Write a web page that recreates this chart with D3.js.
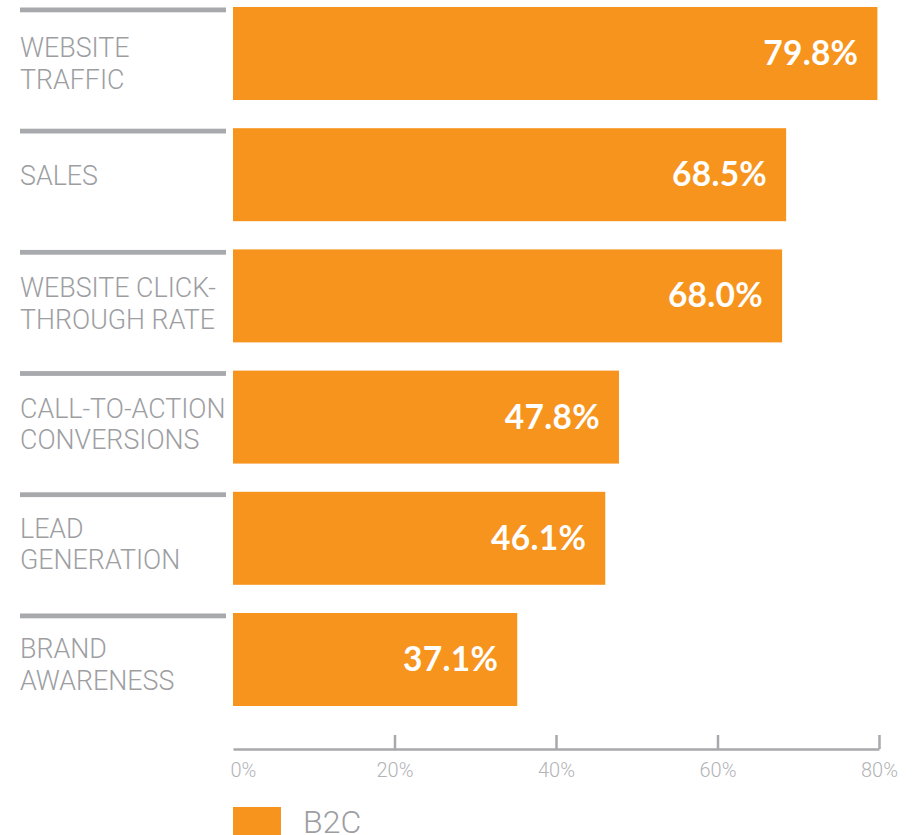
<!DOCTYPE html>
<html>
<head>
<meta charset="utf-8">
<script src="https://cdnjs.cloudflare.com/ajax/libs/d3/7.8.5/d3.min.js"></script>
<style>
  html, body { margin: 0; padding: 0; background: #ffffff; }
  svg { display: block; }
</style>
</head>
<body>
<svg id="chart" width="915" height="835"></svg>
<script>
// ---- data ----
const categories = ["WEBSITE TRAFFIC", "SALES", "WEBSITE CLICK-THROUGH RATE",
                    "CALL-TO-ACTION CONVERSIONS", "LEAD GENERATION", "BRAND AWARENESS"];
const categoryLines = [["WEBSITE", "TRAFFIC"], ["SALES"], ["WEBSITE CLICK-", "THROUGH RATE"],
                       ["CALL-TO-ACTION", "CONVERSIONS"], ["LEAD", "GENERATION"], ["BRAND", "AWARENESS"]];
// bar lengths as drawn in the picture (percent)
const values = [79.8, 68.5, 68.0, 47.8, 46.1, 35.2];
// value labels as printed
const valueLabels = ["79.8%", "68.5%", "68.0%", "47.8%", "46.1%", "37.1%"];
const tickValues = [0, 20, 40, 60, 80];
const tickLabels = ["0%", "20%", "40%", "60%", "80%"];
const seriesName = "B2C";

// ---- drawing ----
const svg = d3.select("#chart");
const orange = "#f7941e";
const grayLine = "#a8a9ad";
const grayText = "#9d9ea2";

const x = d3.scaleLinear().domain([0, 80]).range([233, 879]);
const y = d3.scaleBand().domain(categories).range([7, 706]).paddingInner(0.2327).paddingOuter(0);
// category text sits on a slightly tighter rhythm than the bars
const yLab = d3.scalePoint().domain(categories).range([57, 658]);

const rows = svg.append("g").selectAll("g.row")
  .data(categories.map((c, i) => ({ c, i, v: values[i], lab: valueLabels[i], lines: categoryLines[i] })))
  .join("g").attr("class", "row");

// separator lines
rows.append("rect")
  .attr("x", 20).attr("width", 206)
  .attr("y", d => y(d.c) + 0.5).attr("height", 4.8)
  .attr("fill", grayLine);

// bars
rows.append("rect")
  .attr("x", x(0))
  .attr("y", d => y(d.c))
  .attr("width", d => x(d.v) - x(0))
  .attr("height", y.bandwidth())
  .attr("fill", orange);

// value labels
rows.append("text")
  .attr("x", d => x(d.v) - 19)
  .attr("y", d => y(d.c) + 58)
  .attr("text-anchor", "end")
  .attr("fill", "#ffffff")
  .style("font-family", "Lato, 'Open Sans', sans-serif")
  .style("font-weight", 700)
  .style("font-size", "33.5px")
  .style("letter-spacing", "0.3px")
  .text(d => d.lab);

// category labels
rows.each(function(d) {
  const g = d3.select(this);
  const base = yLab(d.c);
  const t = g.append("text")
    .attr("fill", grayText)
    .style("font-family", "Roboto, sans-serif")
    .style("font-weight", 300)
    .style("font-size", "26.8px");
  if (d.lines.length === 1) {
    t.append("tspan").attr("x", 20).attr("y", y(d.c) + 57).text(d.lines[0]);
  } else {
    d.lines.forEach((ln, k) => {
      t.append("tspan").attr("x", 20).attr("y", base + k * 31.5).text(ln);
    });
  }
});

// axis
const axis = d3.axisBottom(x)
  .tickValues(tickValues)
  .tickFormat((d, i) => tickLabels[i])
  .tickSizeInner(-14)
  .tickSizeOuter(0)
  .tickPadding(14);

const ag = svg.append("g").attr("transform", "translate(0,749)").call(axis);
ag.select(".domain").attr("stroke", grayLine).attr("stroke-width", 2.5);
ag.selectAll(".tick line").attr("stroke", grayLine).attr("stroke-width", 2.5)
  .filter(d => d === 0).remove();
ag.selectAll(".tick text")
  .attr("fill", "#b2b3b6")
  .style("font-family", "Roboto, sans-serif")
  .style("font-weight", 300)
  .style("font-size", "20px");
ag.selectAll(".tick text").filter(d => d === 0)
  .attr("text-anchor", "start").attr("x", -3);

// legend
const lg = svg.append("g");
lg.append("rect").attr("x", x(0)).attr("y", 807).attr("width", 48).attr("height", 40).attr("fill", orange);
lg.append("text")
  .attr("x", 303).attr("y", 833)
  .attr("fill", grayText)
  .style("font-family", "Roboto, sans-serif")
  .style("font-weight", 300)
  .style("font-size", "32px")
  .text(seriesName);
</script>
</body>
</html>
